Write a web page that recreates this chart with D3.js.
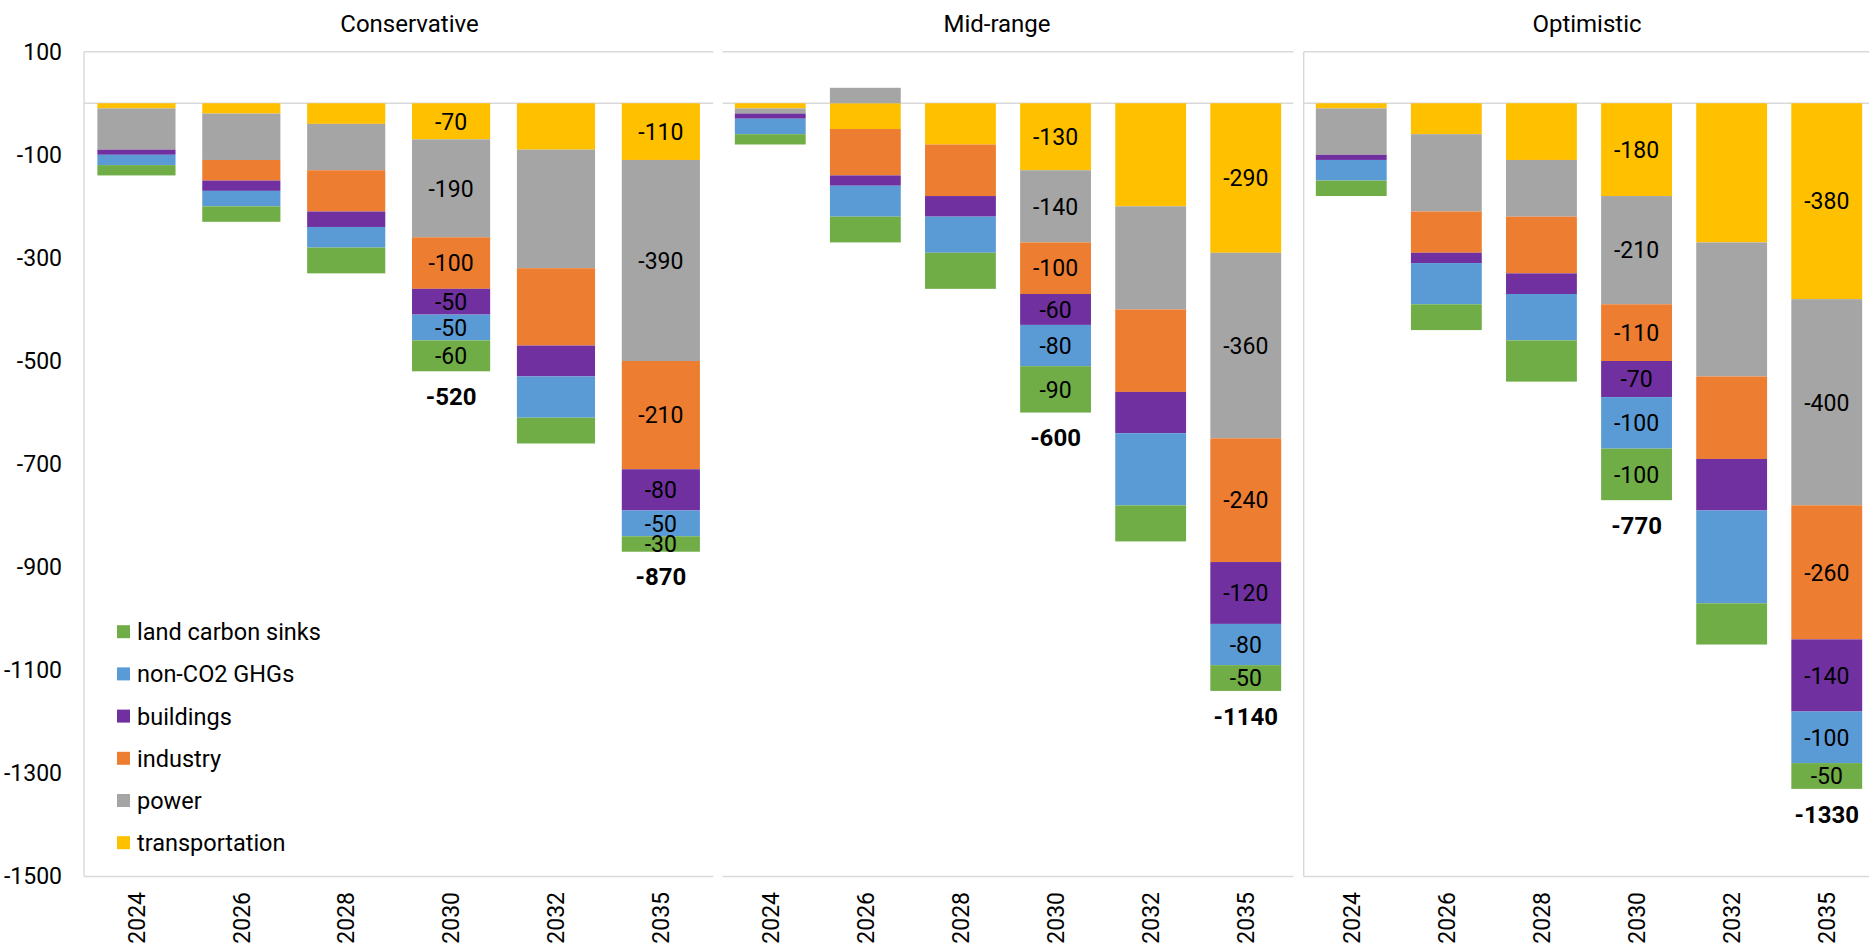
<!DOCTYPE html>
<html>
<head>
<meta charset="utf-8">
<script src="https://cdn.jsdelivr.net/npm/d3@7"></script>
<style>
  html, body { margin: 0; padding: 0; background: #fff; }
  svg { display: block; }
  text { font-family: Roboto, "Noto Sans", sans-serif; }
</style>
</head>
<body>
<svg id="chart" width="1869" height="946"></svg>
<script>
// ---------- DATA ----------
const years = ["2024", "2026", "2028", "2030", "2032", "2035"];
const scenarios = ["Conservative", "Mid-range", "Optimistic"];
const sectors = ["transportation", "power", "industry", "buildings", "non-CO2 GHGs", "land carbon sinks"];
const sectorColors = ["#FFC000", "#A5A5A5", "#ED7D31", "#7030A0", "#5B9BD5", "#70AD47"];
const labeledYears = ["2030", "2035"];
const yTicks = [100, -100, -300, -500, -700, -900, -1100, -1300, -1500];

// values per scenario: [Conservative, Mid-range, Optimistic], each by year
const transportation = [
  [-10, -20, -40, -70, -90, -110],
  [-10, -50, -80, -130, -200, -290],
  [-10, -60, -110, -180, -270, -380]
];
const power = [
  [-80, -90, -90, -190, -230, -390],
  [-10, 30, 0, -140, -200, -360],
  [-90, -150, -110, -210, -260, -400]
];
const industry = [
  [0, -40, -80, -100, -150, -210],
  [0, -90, -100, -100, -160, -240],
  [0, -80, -110, -110, -160, -260]
];
const buildings = [
  [-10, -20, -30, -50, -60, -80],
  [-10, -20, -40, -60, -80, -120],
  [-10, -20, -40, -70, -100, -140]
];
const nonCO2 = [
  [-20, -30, -40, -50, -80, -50],
  [-30, -60, -70, -80, -140, -80],
  [-40, -80, -90, -100, -180, -100]
];
const landSinks = [
  [-20, -30, -50, -60, -50, -30],
  [-20, -50, -70, -90, -70, -50],
  [-30, -50, -80, -100, -80, -50]
];
const seriesArrays = [transportation, power, industry, buildings, nonCO2, landSinks];

// ---------- LAYOUT ----------
const svg = d3.select("#chart");
const panelRanges = [[84, 713.3], [722.7, 1293.3], [1303.7, 1874.3]];
const panelBorders = [true, false, true];
const titleX = [409.5, 997, 1587];

const y = d3.scaleLinear().domain([100, -1500]).range([51.7, 876.5]);
const gridColor = "#d9d9d9";

scenarios.forEach((scen, si) => {
  const [x0, x1] = panelRanges[si];
  const x = d3.scaleBand().domain(years).range([x0, x1])
    .paddingInner(0.255).paddingOuter(0.1275);

  const rows = years.map((yr, yi) => {
    const r = { year: yr };
    sectors.forEach((s, k) => { r[s] = seriesArrays[k][si][yi]; });
    return r;
  });
  const stack = d3.stack().keys(sectors).offset(d3.stackOffsetDiverging);
  const layers = stack(rows);

  const g = svg.append("g");

  // frame lines
  [100, 0, -1500].forEach(v => {
    g.append("line")
      .attr("x1", x0).attr("x2", Math.min(x1, 1869))
      .attr("y1", y(v)).attr("y2", y(v))
      .attr("stroke", gridColor).attr("stroke-width", 1.4);
  });
  if (panelBorders[si]) {
    g.append("line")
      .attr("x1", x0).attr("x2", x0)
      .attr("y1", y(100)).attr("y2", y(-1500))
      .attr("stroke", gridColor).attr("stroke-width", 1.4);
  }

  // bars
  layers.forEach((layer, k) => {
    g.append("g").selectAll("rect")
      .data(layer)
      .join("rect")
      .attr("x", d => x(d.data.year))
      .attr("width", x.bandwidth())
      .attr("y", d => y(Math.max(d[0], d[1])))
      .attr("height", d => Math.abs(y(d[0]) - y(d[1])))
      .attr("fill", sectorColors[k]);
  });

  // segment labels
  layers.forEach((layer, k) => {
    const key = layer.key;
    g.append("g").selectAll("text")
      .data(layer.filter(d => labeledYears.includes(d.data.year) && d.data[key] !== 0))
      .join("text")
      .attr("x", d => x(d.data.year) + x.bandwidth() / 2)
      .attr("y", d => y((d[0] + d[1]) / 2))
      .attr("dy", "0.36em")
      .attr("text-anchor", "middle")
      .attr("font-size", 23)
      .attr("fill", "#000")
      .text(d => String(d.data[key]));
  });

  // totals
  const totals = rows.filter(r => labeledYears.includes(r.year))
    .map(r => ({ year: r.year, total: d3.sum(sectors, s => r[s]) }));
  g.append("g").selectAll("text")
    .data(totals)
    .join("text")
    .attr("x", d => x(d.year) + x.bandwidth() / 2)
    .attr("y", d => y(d.total) + 25)
    .attr("dy", "0.36em")
    .attr("text-anchor", "middle")
    .attr("font-size", 24)
    .attr("font-weight", "bold")
    .attr("fill", "#000")
    .text(d => String(d.total));

  // x axis
  const xAxis = g.append("g")
    .attr("transform", `translate(0,${y(-1500)})`)
    .call(d3.axisBottom(x).tickSize(0));
  xAxis.select(".domain").remove();
  xAxis.selectAll("text")
    .attr("transform", "rotate(-90)")
    .attr("x", -15.5).attr("y", 0).attr("dy", "0.36em")
    .attr("text-anchor", "end")
    .attr("font-family", "'Liberation Sans', Arial, sans-serif")
    .attr("font-size", 23)
    .attr("fill", "#000");

  // title
  svg.append("text")
    .attr("x", titleX[si]).attr("y", 32)
    .attr("text-anchor", "middle")
    .attr("font-size", 24)
    .attr("fill", "#000")
    .text(scen);
});

// y axis
const yAxis = svg.append("g")
  .attr("transform", "translate(84,0)")
  .call(d3.axisLeft(y).tickValues(yTicks).tickSize(0).tickPadding(22)
    .tickFormat(d => String(d)));
yAxis.select(".domain").remove();
yAxis.selectAll("text")
  .attr("font-size", 23)
  .attr("font-family", "Roboto, sans-serif")
  .attr("fill", "#000");

// legend
const legendOrder = sectors.map((s, i) => ({ name: s, color: sectorColors[i] })).reverse();
const legendY = d3.scalePoint().domain(legendOrder.map(d => d.name)).range([631.7, 842.7]);
const legend = svg.append("g");
legendOrder.forEach(d => {
  legend.append("rect")
    .attr("x", 117).attr("y", legendY(d.name) - 6.5)
    .attr("width", 13).attr("height", 13)
    .attr("fill", d.color);
  legend.append("text")
    .attr("x", 137).attr("y", legendY(d.name))
    .attr("dy", "0.36em")
    .attr("font-size", 23.5)
    .attr("fill", "#000")
    .text(d.name);
});
</script>
</body>
</html>
